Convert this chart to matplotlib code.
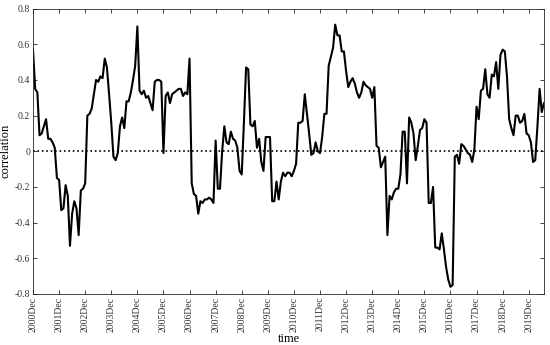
import matplotlib
matplotlib.use("Agg")
import matplotlib.pyplot as plt
import numpy as np

# Monthly correlation values, 2000Dec .. 2020Jul
correlation = [
    0.57, 0.35, 0.33, 0.09, 0.10, 0.14, 0.18, 0.07, 0.07, 0.05, 0.02, -0.15,
    -0.16, -0.33, -0.32, -0.19, -0.25, -0.53, -0.35, -0.28, -0.32, -0.47, -0.22, -0.21,
    -0.18, 0.20, 0.21, 0.24, 0.32, 0.40, 0.39, 0.42, 0.41, 0.52, 0.47, 0.32,
    0.16, -0.03, -0.05, -0.01, 0.14, 0.19, 0.13, 0.28, 0.28, 0.33, 0.40, 0.48,
    0.70, 0.34, 0.32, 0.34, 0.30, 0.31, 0.27, 0.23, 0.39, 0.40, 0.40, 0.39,
    -0.01, 0.31, 0.33, 0.27, 0.32, 0.33, 0.34, 0.35, 0.35, 0.31, 0.33, 0.32,
    0.52, -0.18, -0.24, -0.25, -0.35, -0.28, -0.29, -0.27, -0.27, -0.26, -0.27, -0.29,
    0.06, -0.21, -0.21, 0.00, 0.14, 0.05, 0.04, 0.11, 0.07, 0.06, 0.02, -0.11,
    -0.13, 0.16, 0.47, 0.46, 0.15, 0.14, 0.17, 0.02, 0.07, -0.06, -0.11, 0.08,
    0.08, 0.08, -0.28, -0.28, -0.17, -0.27, -0.17, -0.12, -0.14, -0.12, -0.12, -0.14,
    -0.11, -0.07, 0.16, 0.16, 0.17, 0.32, 0.21, 0.10, -0.02, -0.01, 0.05, 0.00,
    -0.01, 0.08, 0.21, 0.21, 0.48, 0.53, 0.58, 0.71, 0.65, 0.65, 0.56, 0.56,
    0.45, 0.36, 0.39, 0.41, 0.38, 0.33, 0.30, 0.33, 0.39, 0.37, 0.36, 0.35,
    0.30, 0.36, 0.03, 0.02, -0.09, -0.06, -0.03, -0.47, -0.25, -0.27, -0.23, -0.21,
    -0.21, -0.13, 0.11, 0.11, -0.18, 0.19, 0.16, 0.10, -0.05, 0.03, 0.12, 0.13,
    0.18, 0.16, -0.29, -0.29, -0.20, -0.54, -0.54, -0.55, -0.46, -0.55, -0.65, -0.72,
    -0.76, -0.75, -0.03, -0.02, -0.07, 0.04, 0.03, 0.01, -0.01, -0.02, -0.06, 0.01,
    0.25, 0.18, 0.34, 0.35, 0.46, 0.32, 0.30, 0.43, 0.42, 0.50, 0.35, 0.54,
    0.57, 0.56, 0.42, 0.18, 0.13, 0.09, 0.20, 0.20, 0.16, 0.17, 0.21, 0.10,
    0.09, 0.05, -0.06, -0.05, 0.14, 0.35, 0.22, 0.27,
]
tick_labels = ["2000Dec", "2001Dec", "2002Dec", "2003Dec", "2004Dec", "2005Dec",
               "2006Dec", "2007Dec", "2008Dec", "2009Dec", "2010Dec", "2011Dec",
               "2012Dec", "2013Dec", "2014Dec", "2015Dec", "2016Dec", "2017Dec",
               "2018Dec", "2019Dec"]
y_ticks = [-0.8, -0.6, -0.4, -0.2, 0, 0.2, 0.4, 0.6, 0.8]
y_tick_labels = ["-0.8", "-0.6", "-0.4", "-0.2", "0", "0.2", "0.4", "0.6", "0.8"]

plt.rcParams['font.family'] = ['Liberation Serif', 'DejaVu Serif']

fig = plt.figure(figsize=(5.5, 3.45), dpi=100)
ax = fig.add_axes([0.06, 0.148, 0.929, 0.827])

months = np.arange(len(correlation))
ax.plot(months, correlation, color='black', linewidth=1.5)
ax.axhline(0, color='black', linestyle=':', linewidth=1.2)

ax.set_xlim(0, len(correlation) - 1)
ax.set_ylim(-0.8, 0.8)
ax.set_xticks(np.arange(len(tick_labels)) * 12)
ax.set_xticklabels(tick_labels, rotation=90, fontsize=7)
ax.set_yticks(y_ticks)
ax.set_yticklabels(y_tick_labels, fontsize=7)

frame_color = '#262626'
for s in ax.spines.values():
    s.set_color(frame_color)
    s.set_linewidth(0.6)
ax.tick_params(direction='in', length=3, width=0.6, top=True, right=True,
               colors=frame_color, labelcolor='#333333', pad=2)

ax.set_ylabel('correlation', fontsize=9, labelpad=2)
ax.set_xlabel('time', fontsize=9, labelpad=1)

fig.savefig('out.png', dpi=100)
